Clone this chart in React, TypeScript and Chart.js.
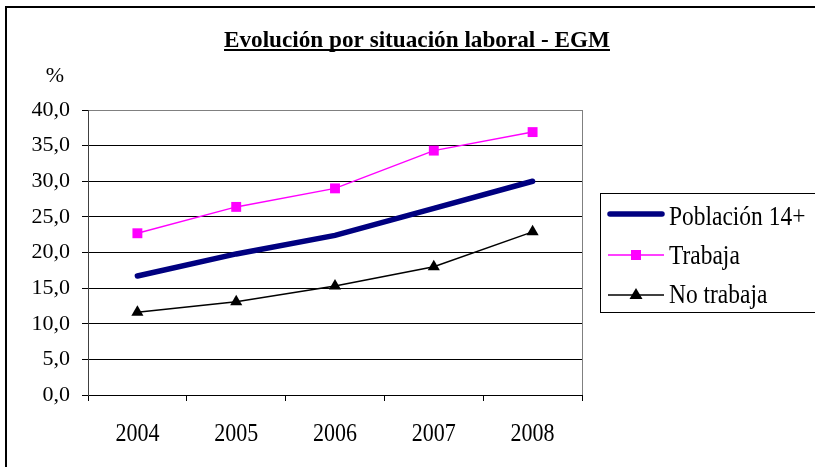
import React, { useEffect, useRef } from "react";
import { Chart, registerables } from "chart.js";

Chart.register(...registerables);

const years = ["2004", "2005", "2006", "2007", "2008"];
const poblacion = [16.7, 19.8, 22.4, 26.2, 30.0];
const trabaja = [22.7, 26.4, 29.0, 34.3, 36.9];
const noTrabaja = [11.6, 13.1, 15.3, 18.0, 22.9];
const seriesNames = ["Población 14+", "Trabaja", "No trabaja"];
const titleText = "Evolución por situación laboral - EGM";
const yUnit = "%";

const SERIF = "'Liberation Serif', 'Times New Roman', serif";

const decorPlugin = {
  id: "decor",
  afterDraw(chart: any) {
    const ctx = chart.ctx as CanvasRenderingContext2D;
    const area = chart.chartArea;
    ctx.save();
    // outer frame (left & top)
    ctx.strokeStyle = "#000";
    ctx.lineWidth = 2;
    ctx.beginPath();
    ctx.moveTo(6, 470);
    ctx.lineTo(6, 7);
    ctx.lineTo(820, 7);
    ctx.stroke();
    // plot area right border gray
    ctx.strokeStyle = "#808080";
    ctx.lineWidth = 1;
    ctx.beginPath();
    ctx.moveTo(Math.round(area.right) + 0.5, area.top);
    ctx.lineTo(Math.round(area.right) + 0.5, area.bottom);
    ctx.stroke();

    // title
    ctx.fillStyle = "#000";
    ctx.font = `bold 22px ${SERIF}`;
    ctx.textBaseline = "alphabetic";
    ctx.textAlign = "left";
    const w = ctx.measureText(titleText).width;
    const targetW = 386;
    const sx = targetW / w;
    ctx.save();
    ctx.translate(224, 46.5);
    ctx.scale(sx, 1.05);
    ctx.fillText(titleText, 0, 0);
    ctx.restore();
    ctx.fillRect(224, 49, targetW, 2);

    // % unit
    ctx.font = `22px ${SERIF}`;
    ctx.textAlign = "center";
    ctx.fillText(yUnit, 55, 82);

    // x labels (vertically stretched like the reference)
    const xs = chart.scales.x;
    ctx.font = `22px ${SERIF}`;
    ctx.textAlign = "center";
    ctx.textBaseline = "alphabetic";
    years.forEach((lab, i) => {
      const px = xs.getPixelForValue(i);
      ctx.save();
      ctx.translate(px, 441);
      ctx.scale(1, 1.15);
      ctx.fillText(lab, 0, 0);
      ctx.restore();
    });

    // legend
    const lx = 600, ly = 193, lb = 312;
    ctx.strokeStyle = "#000";
    ctx.lineWidth = 1;
    ctx.strokeRect(lx + 0.5, ly + 0.5, 300, lb - ly);
    const rows = [214, 255, 295];
    const bases = [224.5, 263.5, 302.5];
    const ds = chart.data.datasets;
    ctx.font = `23px ${SERIF}`;
    ctx.textAlign = "left";
    ctx.textBaseline = "alphabetic";
    rows.forEach((ry, i) => {
      const d = ds[i];
      ctx.strokeStyle = d.borderColor;
      ctx.lineWidth = d.borderWidth;
      ctx.lineCap = i === 0 ? "round" : "butt";
      ctx.beginPath();
      ctx.moveTo(i === 0 ? 610 : 608, ry);
      ctx.lineTo(i === 0 ? 662 : 664, ry);
      ctx.stroke();
      ctx.fillStyle = d.pointBackgroundColor || d.borderColor;
      if (d.pointStyle === "rect") {
        ctx.fillRect(631, ry - 5, 10, 10);
      } else if (d.pointStyle === "triangle") {
        ctx.beginPath();
        ctx.moveTo(636, ry - 7);
        ctx.lineTo(642.5, ry + 4);
        ctx.lineTo(629.5, ry + 4);
        ctx.closePath();
        ctx.fill();
      }
      ctx.fillStyle = "#000";
      ctx.save();
      ctx.translate(669, bases[i]);
      ctx.scale(1.02, 1.15);
      ctx.fillText(seriesNames[i], 0, 0);
      ctx.restore();
    });
    ctx.restore();
  },
};

export default function App() {
  const ref = useRef<HTMLCanvasElement>(null);
  useEffect(() => {
    document.body.style.margin = "0";
    const chart = new Chart(ref.current!, {
      type: "line",
      data: {
        labels: years,
        datasets: [
          {
            label: seriesNames[0],
            data: poblacion,
            borderColor: "#000080",
            backgroundColor: "#000080",
            borderWidth: 5.5,
            pointRadius: 0,
            borderCapStyle: "round",
            tension: 0,
          },
          {
            label: seriesNames[1],
            data: trabaja,
            borderColor: "#FF00FF",
            backgroundColor: "#FF00FF",
            pointBackgroundColor: "#FF00FF",
            pointBorderColor: "#FF00FF",
            borderWidth: 1.5,
            pointStyle: "rect",
            pointRadius: 7,
            pointBorderWidth: 0,
          },
          {
            label: seriesNames[2],
            data: noTrabaja,
            borderColor: "#000",
            backgroundColor: "#000",
            pointBackgroundColor: "#000",
            pointBorderColor: "#000",
            borderWidth: 1.5,
            pointStyle: "triangle",
            pointRadius: 7,
            pointBorderWidth: 0,
          },
        ] as any,
      },
      options: {
        animation: false,
        responsive: false,
        layout: { padding: { left: 8, top: 110, right: 233, bottom: 0 } },
        plugins: { legend: { display: false }, title: { display: false }, tooltip: { enabled: false } },
        scales: {
          x: {
            offset: true,
            grid: {
              offset: true,
              drawOnChartArea: false,
              drawTicks: true,
              tickLength: 6,
              tickColor: "#000",
            },
            border: { color: "#000", width: 1 },
            ticks: { display: false },
            afterFit: (s: any) => {
              s.height = 72;
            },
          },
          y: {
            min: 0,
            max: 40,
            grid: {
              color: (c: any) => (c.tick && c.tick.value === 40 ? "#808080" : "#000"),
              tickColor: "#000",
              tickLength: 6,
              lineWidth: 1,
            },
            border: { color: "#404040", width: 1 },
            ticks: {
              stepSize: 5,
              font: { family: SERIF, size: 22 },
              color: "#000",
              padding: 12,
              callback: (v: any) => Number(v).toFixed(1).replace(".", ","),
            },
            afterFit: (s: any) => {
              s.width = 80;
            },
          },
        },
      },
      plugins: [decorPlugin],
    });
    return () => chart.destroy();
  }, []);
  return (
    <div style={{ position: "absolute", left: 0, top: 0, width: 815, height: 467, background: "#fff" }}>
      <canvas ref={ref} width={815} height={467} />
    </div>
  );
}
